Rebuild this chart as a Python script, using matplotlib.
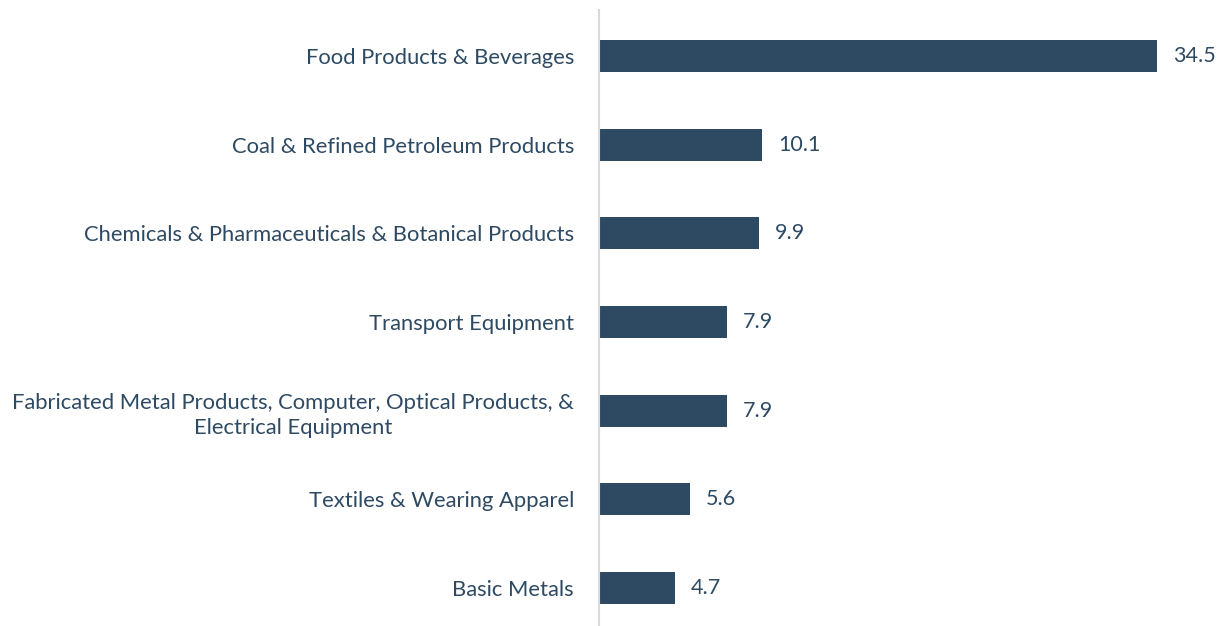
import matplotlib
matplotlib.use("Agg")
import matplotlib.pyplot as plt

categories = [
    "Food Products & Beverages",
    "Coal & Refined Petroleum Products",
    "Chemicals & Pharmaceuticals & Botanical Products",
    "Transport Equipment",
    "Fabricated Metal Products, Computer, Optical Products, &\nElectrical Equipment",
    "Textiles & Wearing Apparel",
    "Basic Metals",
]
values = [34.5, 10.1, 9.9, 7.9, 7.9, 5.6, 4.7]
value_labels = ["34.5", "10.1", "9.9", "7.9", "7.9", "5.6", "4.7"]

bar_color = "#2E4A63"
text_color = "#2E4A63"

plt.rcParams['font.family'] = ['Lato', 'DejaVu Sans']

fig = plt.figure(figsize=(12.24, 6.26), dpi=100)
ax = fig.add_axes([599/1224, 0, 1 - 599/1224, 616/626])

y = list(range(len(categories)))
ax.barh(y, values, height=0.36, color=bar_color, zorder=2)
for yi, v, lab in zip(y, values, value_labels):
    ax.text(v + 1.0, yi, lab, va='center', ha='left', fontsize=15.5, color=text_color)

ax.set_ylim(6.428, -0.519)
ax.set_xlim(0, 38.65)
ax.set_yticks(y)
ax.set_yticklabels(categories, fontsize=15.8, color=text_color, ha='right',
                   multialignment='center', linespacing=1.35)
ax.tick_params(axis='y', length=0, pad=18)
ax.set_xticks([])
for s in ['top', 'right', 'bottom']:
    ax.spines[s].set_visible(False)
ax.spines['left'].set_color('#D9D9D9')
ax.spines['left'].set_linewidth(1.5)

fig.savefig("out.png", dpi=100)
